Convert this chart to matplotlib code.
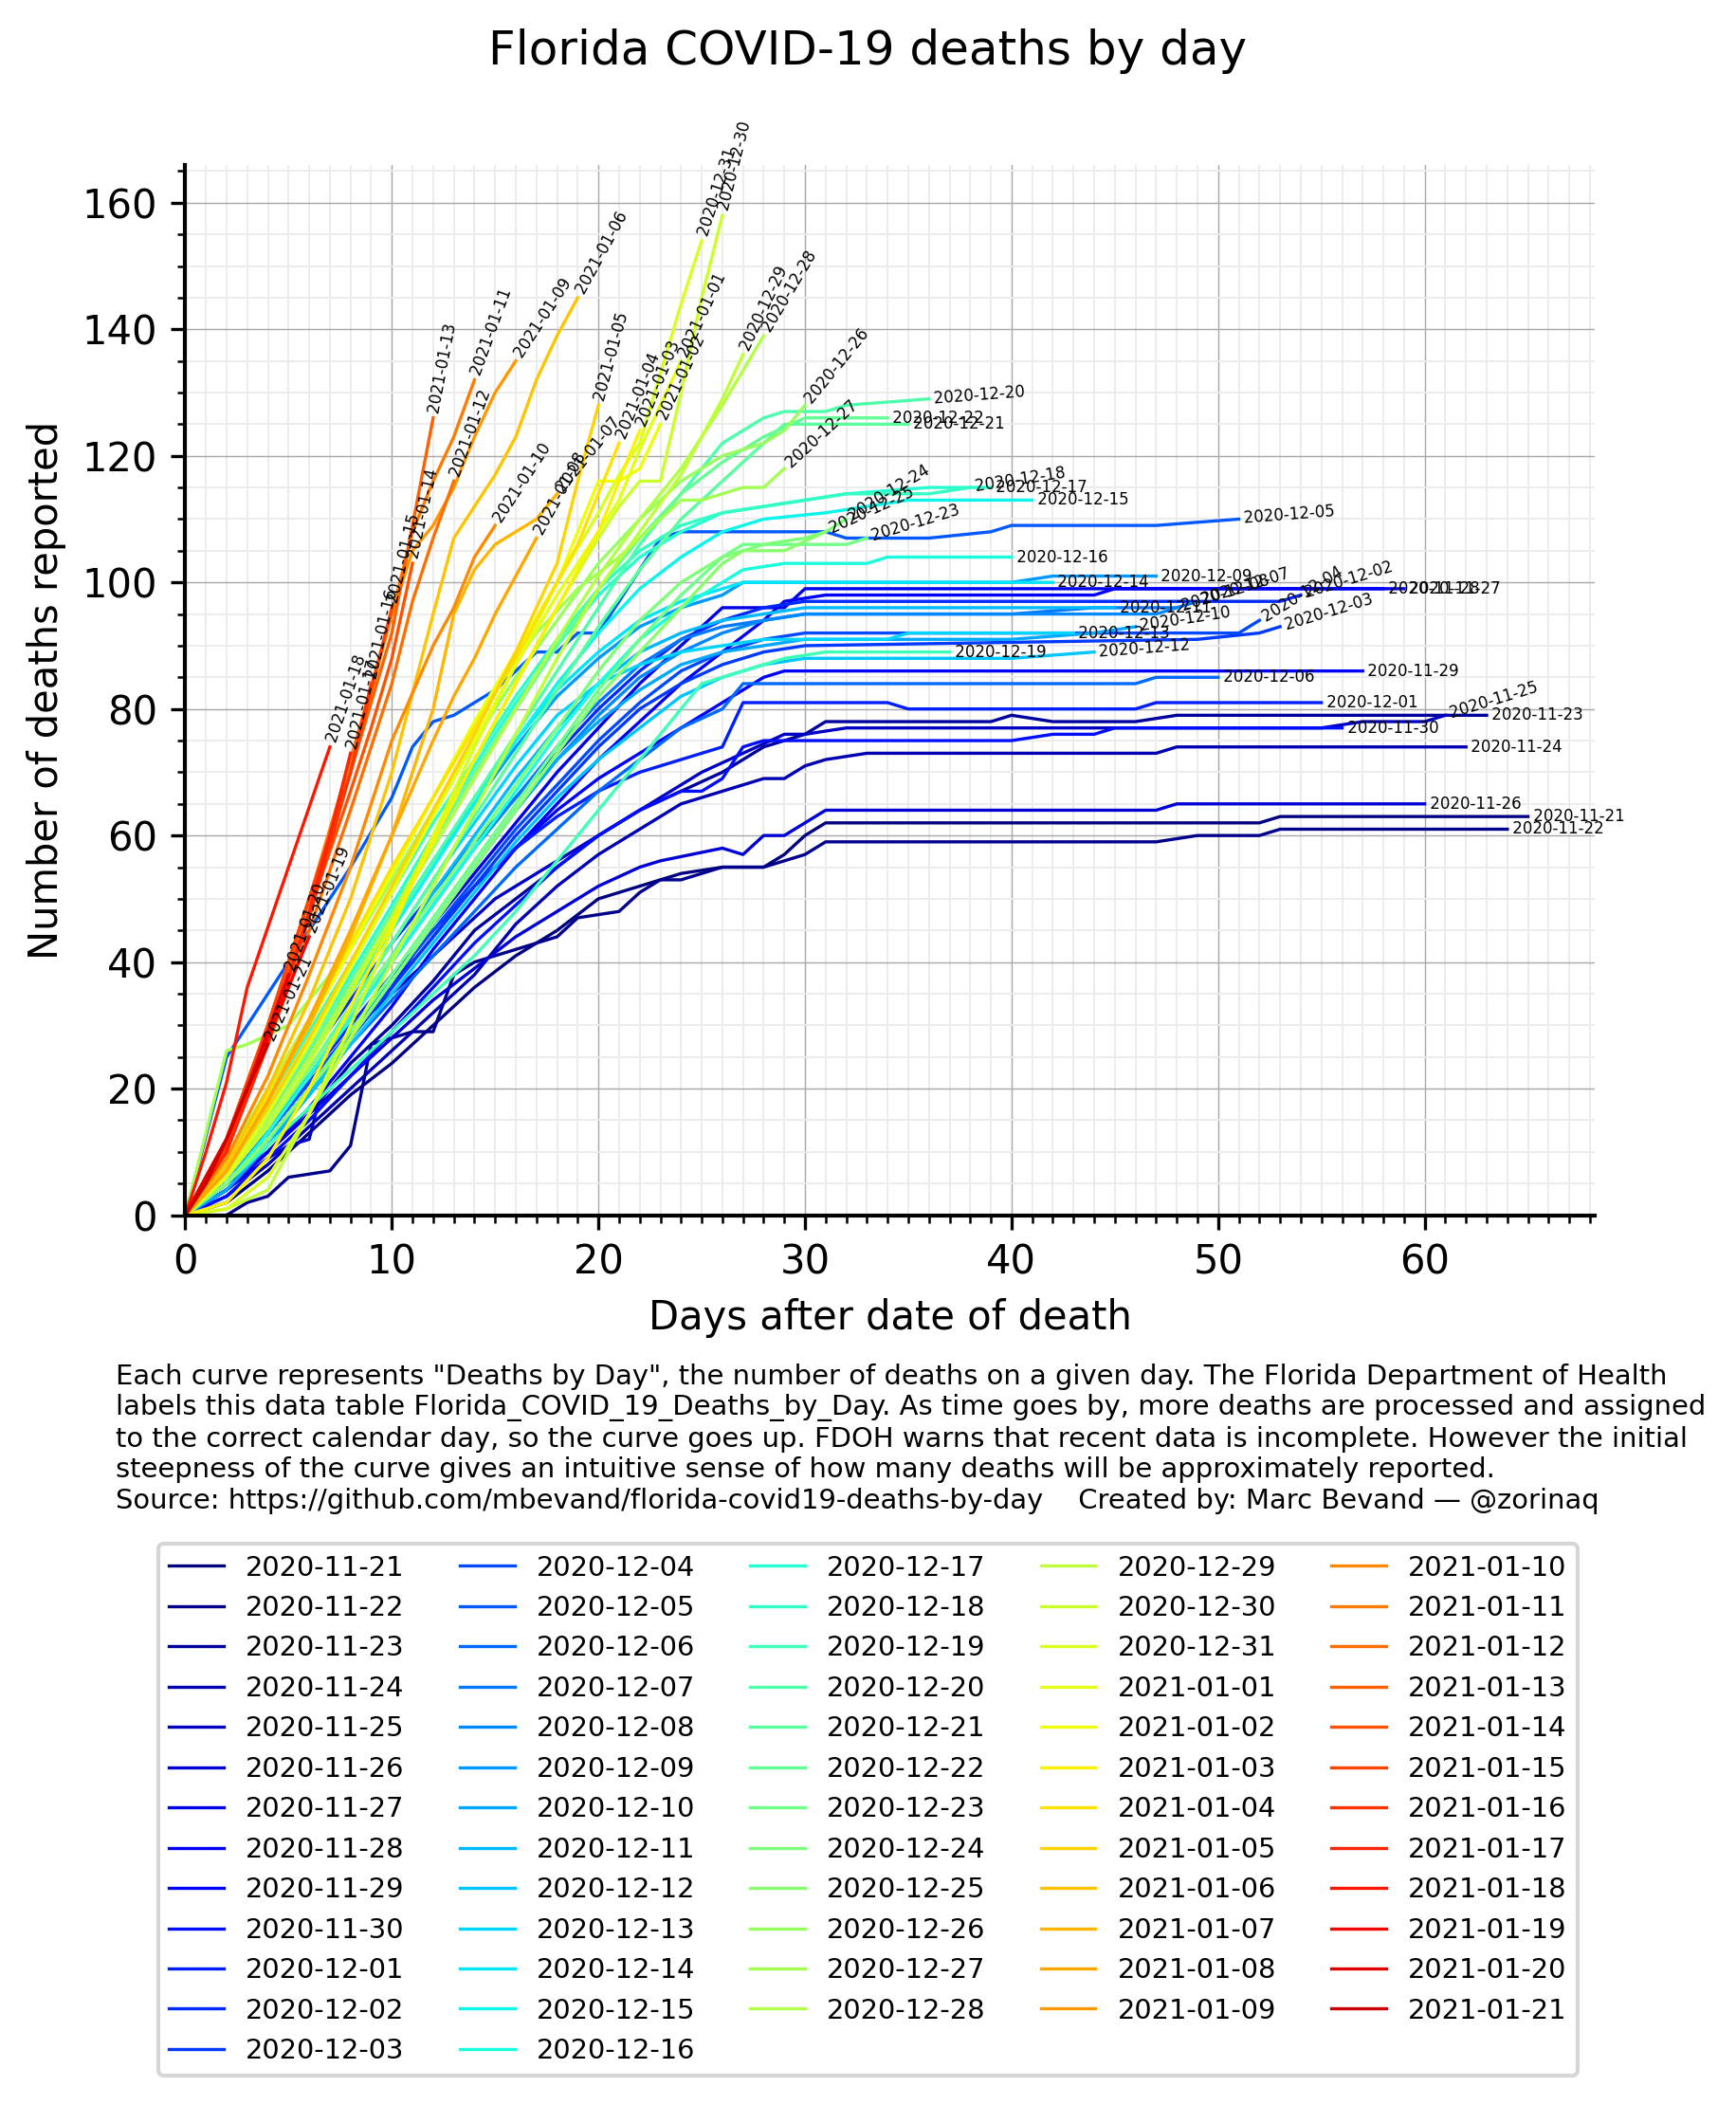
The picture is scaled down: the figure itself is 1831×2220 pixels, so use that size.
import math
import numpy as np
import matplotlib
matplotlib.use("Agg")
import matplotlib.pyplot as plt
from matplotlib.ticker import MultipleLocator

# ---------------- data ----------------
dates = [
    "2020-11-21", "2020-11-22", "2020-11-23", "2020-11-24", "2020-11-25", "2020-11-26",
    "2020-11-27", "2020-11-28", "2020-11-29", "2020-11-30", "2020-12-01", "2020-12-02",
    "2020-12-03", "2020-12-04", "2020-12-05", "2020-12-06", "2020-12-07", "2020-12-08",
    "2020-12-09", "2020-12-10", "2020-12-11", "2020-12-12", "2020-12-13", "2020-12-14",
    "2020-12-15", "2020-12-16", "2020-12-17", "2020-12-18", "2020-12-19", "2020-12-20",
    "2020-12-21", "2020-12-22", "2020-12-23", "2020-12-24", "2020-12-25", "2020-12-26",
    "2020-12-27", "2020-12-28", "2020-12-29", "2020-12-30", "2020-12-31", "2021-01-01",
    "2021-01-02", "2021-01-03", "2021-01-04", "2021-01-05", "2021-01-06", "2021-01-07",
    "2021-01-08", "2021-01-09", "2021-01-10", "2021-01-11", "2021-01-12", "2021-01-13",
    "2021-01-14", "2021-01-15", "2021-01-16", "2021-01-17", "2021-01-18", "2021-01-19",
    "2021-01-20", "2021-01-21",
]

# days after date of death (reading points) for each curve
key_days = [
    [0, 2, 4, 6, 8, 10, 12, 14, 16, 18, 20, 22, 24, 26, 28, 29, 30, 31, 52, 53, 65],
    [0, 2, 3, 4, 5, 7, 8, 9, 10, 11, 12, 13, 14, 16, 18, 19, 21, 22, 23, 24, 26, 28, 30, 31, 47, 49, 52, 53, 64],
    [0, 2, 4, 6, 8, 10, 12, 14, 16, 18, 20, 22, 24, 26, 28, 30, 31, 39, 40, 42, 46, 48, 63],
    [0, 2, 4, 6, 8, 10, 12, 14, 16, 18, 20, 22, 24, 26, 28, 29, 30, 31, 33, 47, 48, 62],
    [0, 2, 4, 5, 6, 7, 9, 11, 13, 15, 17, 19, 21, 23, 25, 27, 29, 30, 32, 55, 57, 60, 61],
    [0, 2, 4, 6, 8, 10, 12, 14, 16, 18, 20, 22, 23, 26, 27, 28, 29, 30, 31, 47, 48, 60],
    [0, 2, 4, 6, 8, 10, 12, 14, 16, 18, 20, 22, 24, 26, 29, 30, 59],
    [0, 2, 4, 6, 8, 10, 12, 14, 16, 18, 20, 22, 24, 26, 28, 29, 31, 44, 45, 58],
    [0, 2, 4, 6, 8, 10, 12, 14, 16, 18, 20, 22, 24, 26, 28, 29, 57],
    [0, 2, 4, 6, 8, 10, 12, 14, 16, 18, 20, 22, 24, 25, 26, 27, 28, 40, 42, 44, 45, 56],
    [0, 2, 4, 6, 8, 10, 12, 14, 16, 18, 20, 22, 24, 26, 27, 34, 35, 46, 47, 55],
    [0, 2, 4, 6, 8, 10, 12, 14, 16, 18, 20, 22, 24, 26, 28, 30, 53, 54],
    [0, 2, 4, 6, 8, 10, 12, 14, 16, 18, 20, 22, 24, 26, 28, 30, 49, 52, 53],
    [0, 2, 4, 6, 8, 10, 12, 14, 16, 18, 20, 22, 24, 26, 28, 30, 49, 51, 52],
    [0, 2, 3, 5, 8, 10, 11, 12, 13, 15, 17, 18, 19, 20, 23, 24, 31, 32, 36, 39, 40, 47, 51],
    [0, 2, 4, 6, 8, 10, 12, 14, 16, 18, 20, 22, 24, 26, 27, 46, 47, 50],
    [0, 2, 4, 6, 8, 10, 12, 14, 16, 18, 20, 22, 24, 26, 28, 30, 40, 44, 48, 49],
    [0, 2, 4, 6, 8, 10, 12, 14, 16, 18, 20, 22, 24, 26, 28, 30, 42, 47, 48],
    [0, 2, 4, 6, 8, 10, 12, 14, 16, 18, 20, 22, 24, 26, 27, 40, 42, 47],
    [0, 2, 4, 6, 8, 10, 12, 14, 16, 18, 20, 22, 24, 26, 28, 30, 40, 44, 46],
    [0, 2, 4, 6, 8, 10, 12, 14, 16, 18, 20, 22, 24, 26, 28, 30, 45],
    [0, 2, 4, 6, 8, 10, 12, 14, 16, 18, 20, 22, 24, 26, 28, 30, 40, 44],
    [0, 2, 4, 6, 8, 10, 12, 14, 16, 18, 20, 22, 24, 26, 28, 31, 34, 35, 43],
    [0, 2, 4, 6, 8, 10, 12, 14, 16, 18, 20, 22, 24, 26, 27, 42],
    [0, 2, 4, 6, 8, 10, 12, 14, 16, 18, 20, 22, 24, 26, 28, 31, 35, 41],
    [0, 2, 4, 6, 8, 10, 12, 14, 16, 18, 20, 22, 24, 26, 27, 29, 33, 34, 40],
    [0, 2, 4, 6, 8, 10, 12, 14, 16, 18, 20, 22, 24, 26, 28, 30, 32, 36, 39],
    [0, 2, 4, 6, 8, 10, 12, 14, 16, 18, 20, 22, 24, 26, 28, 30, 32, 36, 38],
    [0, 2, 4, 6, 8, 10, 12, 14, 16, 18, 20, 22, 24, 25, 27, 29, 31, 37],
    [0, 2, 4, 6, 8, 10, 12, 14, 16, 18, 20, 22, 24, 26, 28, 29, 31, 32, 36],
    [0, 2, 4, 6, 8, 10, 12, 14, 16, 18, 20, 22, 24, 26, 28, 29, 35],
    [0, 2, 4, 6, 8, 10, 12, 14, 16, 18, 20, 22, 24, 26, 28, 30, 34],
    [0, 2, 4, 6, 8, 10, 12, 14, 16, 18, 20, 22, 24, 26, 27, 29, 32, 33],
    [0, 2, 4, 6, 8, 10, 12, 14, 16, 18, 20, 22, 24, 26, 28, 30, 31, 32],
    [0, 2, 4, 6, 8, 10, 12, 14, 16, 18, 20, 22, 24, 26, 27, 29, 31],
    [0, 2, 4, 6, 8, 10, 12, 14, 16, 18, 20, 22, 24, 26, 28, 29, 30],
    [0, 2, 3, 5, 7, 9, 11, 13, 15, 17, 19, 21, 23, 24, 25, 27, 28, 29],
    [0, 2, 4, 6, 8, 10, 12, 14, 16, 18, 20, 22, 24, 26, 28],
    [0, 2, 4, 5, 6, 8, 10, 12, 14, 16, 18, 20, 22, 24, 26, 27],
    [0, 2, 4, 6, 8, 10, 12, 14, 16, 18, 20, 21, 22, 23, 24, 25, 26],
    [0, 2, 4, 6, 8, 10, 12, 14, 16, 18, 20, 21, 22, 23, 24, 25],
    [0, 2, 4, 6, 8, 10, 12, 14, 16, 18, 20, 21, 22, 23, 24],
    [0, 2, 4, 6, 8, 10, 12, 14, 16, 18, 19, 20, 21, 22, 23],
    [0, 2, 4, 6, 8, 10, 12, 14, 16, 18, 20, 21, 22],
    [0, 2, 4, 6, 8, 10, 12, 14, 16, 18, 19, 20, 21],
    [0, 2, 4, 6, 8, 10, 12, 14, 16, 18, 19, 20],
    [0, 2, 4, 6, 8, 10, 12, 13, 14, 15, 16, 17, 18, 19],
    [0, 2, 4, 6, 8, 10, 12, 13, 14, 15, 16, 17, 18],
    [0, 2, 4, 6, 8, 10, 12, 13, 14, 15, 16, 17],
    [0, 2, 4, 6, 8, 10, 11, 12, 13, 14, 15, 16],
    [0, 2, 4, 6, 8, 10, 12, 13, 14, 15],
    [0, 2, 4, 6, 8, 10, 11, 12, 13, 14],
    [0, 2, 4, 6, 8, 10, 11, 12, 13],
    [0, 2, 4, 6, 8, 10, 11, 12],
    [0, 2, 4, 6, 8, 9, 10, 11],
    [0, 2, 4, 6, 8, 9, 10],
    [0, 2, 4, 6, 8, 9],
    [0, 2, 4, 6, 7, 8],
    [0, 1, 2, 3, 7],
    [0, 2, 4, 5, 6],
    [0, 2, 3, 4, 5],
    [0, 1, 2, 3, 4],
]

# number of deaths reported at those points
key_vals = [
    [0, 2, 7, 13, 19, 24, 30, 36, 41, 45, 50, 52, 54, 55, 55, 57, 60, 62, 62, 63, 63],
    [0, 0, 2, 3, 6, 7, 11, 27, 28, 29, 29, 38, 40, 42, 44, 47, 48, 51, 53, 53, 55, 55, 57, 59, 59, 60, 60, 61, 61],
    [0, 5, 10, 16, 24, 30, 37, 45, 50, 55, 60, 64, 67, 70, 74, 76, 78, 78, 79, 78, 78, 79, 79],
    [0, 3, 8, 14, 20, 26, 32, 38, 46, 52, 57, 61, 65, 67, 69, 69, 71, 72, 73, 73, 74, 74],
    [0, 4, 9, 11, 12, 25, 32, 38, 44, 50, 54, 58, 62, 66, 70, 73, 76, 76, 77, 77, 78, 78, 79],
    [0, 4, 10, 16, 22, 28, 34, 39, 44, 48, 52, 55, 56, 58, 57, 60, 60, 62, 64, 64, 65, 65],
    [0, 5, 12, 20, 28, 36, 46, 54, 62, 70, 77, 84, 90, 96, 96, 99, 99],
    [0, 4, 10, 17, 25, 33, 42, 50, 58, 65, 72, 78, 84, 89, 94, 97, 98, 98, 99, 99],
    [0, 6, 13, 21, 29, 36, 44, 52, 58, 64, 69, 73, 77, 81, 85, 86, 86],
    [0, 3, 9, 15, 22, 29, 36, 43, 49, 55, 60, 64, 67, 67, 69, 74, 75, 75, 76, 76, 77, 77],
    [0, 6, 14, 22, 30, 38, 45, 52, 58, 63, 67, 70, 72, 74, 81, 81, 80, 80, 81, 81],
    [0, 7, 16, 25, 34, 43, 51, 59, 66, 73, 80, 86, 91, 94, 96, 97, 97, 98],
    [0, 5, 12, 20, 28, 36, 44, 52, 60, 67, 74, 80, 84, 87, 89, 90, 91, 92, 93],
    [0, 6, 13, 21, 29, 37, 45, 53, 61, 68, 75, 81, 86, 89, 91, 92, 92, 92, 94],
    [0, 25, 30, 40, 55, 66, 74, 78, 79, 83, 89, 89, 92, 92, 107, 108, 108, 107, 107, 108, 109, 109, 110],
    [0, 5, 12, 19, 27, 34, 41, 48, 55, 61, 67, 72, 77, 80, 84, 84, 85, 85],
    [0, 6, 14, 22, 31, 40, 49, 58, 66, 74, 81, 87, 91, 93, 94, 95, 95, 96, 96, 97],
    [0, 5, 12, 20, 28, 37, 46, 55, 64, 72, 79, 85, 89, 92, 94, 95, 95, 95, 96],
    [0, 7, 16, 26, 36, 46, 56, 65, 74, 82, 88, 93, 96, 98, 100, 100, 101, 101],
    [0, 4, 11, 19, 28, 37, 46, 55, 64, 72, 78, 83, 87, 89, 90, 91, 91, 92, 93],
    [0, 6, 14, 23, 32, 41, 51, 60, 69, 77, 84, 89, 92, 94, 95, 96, 96],
    [0, 5, 12, 19, 27, 35, 43, 51, 59, 66, 72, 77, 82, 85, 87, 88, 88, 89],
    [0, 6, 14, 23, 33, 43, 53, 62, 71, 79, 84, 87, 89, 90, 91, 91, 91, 92, 92],
    [0, 7, 16, 26, 36, 46, 56, 66, 75, 83, 89, 94, 97, 99, 100, 100],
    [0, 6, 15, 25, 35, 45, 55, 65, 75, 84, 92, 99, 104, 108, 110, 111, 113, 113],
    [0, 5, 13, 22, 31, 40, 49, 58, 67, 76, 84, 91, 96, 100, 102, 103, 103, 104, 104],
    [0, 7, 17, 27, 38, 49, 60, 71, 81, 90, 98, 104, 108, 111, 112, 113, 114, 115, 115],
    [0, 8, 18, 29, 40, 51, 62, 72, 82, 91, 99, 105, 109, 111, 112, 113, 114, 114, 115],
    [0, 5, 11, 17, 23, 29, 35, 41, 48, 56, 64, 72, 80, 84, 86, 88, 89, 89],
    [0, 7, 16, 26, 36, 46, 56, 66, 76, 86, 96, 106, 114, 122, 126, 127, 127, 128, 129],
    [0, 6, 14, 23, 33, 43, 53, 63, 73, 83, 93, 102, 110, 116, 122, 125, 125],
    [0, 7, 16, 26, 37, 48, 59, 70, 80, 90, 99, 107, 114, 119, 123, 126, 126],
    [0, 5, 12, 20, 29, 38, 47, 56, 65, 74, 83, 91, 98, 104, 106, 106, 106, 107],
    [0, 6, 14, 23, 32, 41, 50, 59, 68, 77, 86, 94, 100, 104, 106, 107, 108, 110],
    [0, 5, 12, 20, 28, 37, 46, 55, 64, 73, 82, 89, 96, 103, 105, 105, 108],
    [0, 9, 20, 31, 42, 53, 64, 75, 85, 94, 103, 110, 116, 120, 122, 124, 128],
    [0, 26, 27, 30, 38, 48, 60, 72, 83, 92, 99, 104, 110, 113, 113, 115, 115, 118],
    [0, 6, 15, 25, 36, 47, 58, 69, 80, 91, 101, 110, 118, 128, 139],
    [0, 1, 4, 10, 16, 28, 40, 52, 64, 76, 88, 99, 108, 117, 129, 136],
    [0, 6, 14, 24, 35, 47, 60, 72, 84, 96, 107, 112, 116, 116, 130, 145, 158],
    [0, 1, 6, 16, 30, 45, 60, 74, 87, 100, 111, 117, 122, 133, 144, 154],
    [0, 6, 16, 27, 39, 51, 63, 75, 87, 98, 108, 113, 121, 128, 135],
    [0, 7, 18, 30, 42, 54, 66, 78, 89, 100, 108, 116, 116, 118, 125],
    [0, 2, 9, 20, 33, 46, 59, 72, 84, 96, 108, 116, 124],
    [0, 8, 19, 31, 43, 55, 66, 77, 88, 100, 106, 114, 122],
    [0, 7, 17, 28, 40, 52, 64, 76, 89, 103, 116, 128],
    [0, 8, 20, 34, 50, 70, 95, 107, 112, 117, 123, 132, 139, 145],
    [0, 7, 18, 30, 44, 60, 80, 95, 102, 106, 108, 110, 114],
    [0, 7, 18, 31, 45, 60, 75, 82, 88, 95, 101, 107],
    [0, 12, 30, 50, 70, 95, 105, 109, 115, 123, 130, 135],
    [0, 9, 22, 38, 55, 75, 90, 96, 104, 109],
    [0, 12, 30, 50, 72, 95, 108, 116, 123, 132],
    [0, 11, 27, 45, 64, 84, 97, 107, 116],
    [0, 12, 30, 50, 70, 92, 109, 126],
    [0, 12, 29, 48, 67, 77, 88, 103],
    [0, 12, 30, 50, 70, 83, 96],
    [0, 11, 28, 47, 70, 84],
    [0, 10, 27, 48, 60, 73],
    [0, 10, 21, 36, 74],
    [0, 12, 28, 36, 44],
    [0, 12, 20, 29, 38],
    [0, 5, 12, 20, 27],
]

x_ticks = [0, 10, 20, 30, 40, 50, 60]
y_ticks = [0, 20, 40, 60, 80, 100, 120, 140, 160]

title = "Florida COVID-19 deaths by day"
x_label = "Days after date of death"
y_label = "Number of deaths reported"
footnote = (
    'Each curve represents "Deaths by Day", the number of deaths on a given day. The Florida Department of Health\n'
    "labels this data table Florida_COVID_19_Deaths_by_Day. As time goes by, more deaths are processed and assigned\n"
    "to the correct calendar day, so the curve goes up. FDOH warns that recent data is incomplete. However the initial\n"
    "steepness of the curve gives an intuitive sense of how many deaths will be approximately reported.\n"
    "Source: https://github.com/mbevand/florida-covid19-deaths-by-day    Created by: Marc Bevand \u2014 @zorinaq"
)

# ---------------- figure ----------------
W, H, DPI = 1831, 2220, 300
plt.rcParams["font.family"] = ["DejaVu Sans"]
fig = plt.figure(figsize=(W / DPI, H / DPI), dpi=DPI)
ax_left, ax_right, ax_top, ax_bottom = 195.4, 1682.4, 174.4, 1281.6
ax = fig.add_axes([ax_left / W, 1 - ax_bottom / H, (ax_right - ax_left) / W, (ax_bottom - ax_top) / H])
ax.set_xlim(0, 68.25)
ax.set_ylim(0, 165.9)

# jet colormap over most of its range (dark blue -> red)
colors = plt.cm.jet(np.linspace(0, 0.93, len(dates)))
handles = []
for i, (lab, dd, vv) in enumerate(zip(dates, key_days, key_vals)):
    (ln,) = ax.plot(dd, vv, color=colors[i], lw=0.8, label=lab)
    handles.append(ln)

# end-of-curve labels, rotated along the last segment
for lab, dd, vv in zip(dates, key_days, key_vals):
    p = ax.transData.transform([(dd[-2], vv[-2]), (dd[-1], vv[-1])])
    ang = math.degrees(math.atan2(p[1, 1] - p[0, 1], p[1, 0] - p[0, 0]))
    ax.text(dd[-1], vv[-1], " " + lab, fontsize=4, rotation=ang,
            rotation_mode="anchor", ha="left", va="center", color="black")

ax.set_xticks(x_ticks)
ax.set_yticks(y_ticks)
ax.xaxis.set_minor_locator(MultipleLocator(1))
ax.yaxis.set_minor_locator(MultipleLocator(5))
ax.tick_params(axis="both", which="major", labelsize=10)
ax.grid(which="major", color="#aaaaaa", lw=0.35)
ax.grid(which="minor", color="#ebebeb", lw=0.45)
ax.set_axisbelow(True)
for s in ["top", "right"]:
    ax.spines[s].set_visible(False)
for s in ["left", "bottom"]:
    ax.spines[s].set_linewidth(1.0)

ax.set_xlabel(x_label, fontsize=10)
ax.set_ylabel(y_label, fontsize=10)

fig.text(0.5, 1 - 68.3 / H, title, ha="center", va="baseline", fontsize=12)
fig.text(121.7 / W, 1 - 1438 / H, footnote, ha="left", va="top", fontsize=6.97)

fig.legend(handles, dates, loc="upper center", bbox_to_anchor=(0.5, 1 - 1628 / H),
           ncol=5, fontsize=6.94, borderaxespad=0.0)

fig.savefig("out.png", dpi=DPI)
